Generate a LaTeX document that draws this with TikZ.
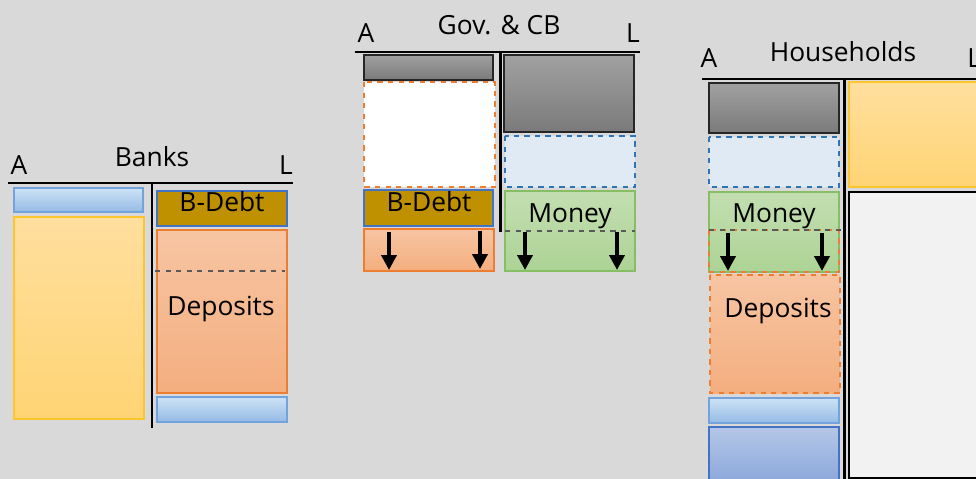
\documentclass[tikz,border=0pt]{standalone}
\usepackage{fontspec}
\setmainfont{Open Sans}
\usetikzlibrary{arrows.meta}

\definecolor{panel}{HTML}{D9D9D9}
\definecolor{blueedge}{HTML}{72A3DD}
\definecolor{debtfill}{HTML}{BF9000}
\definecolor{orangeedge}{HTML}{ED7D31}
\definecolor{darkblue}{HTML}{2E75B6}
\definecolor{greenedge}{HTML}{86BE63}
\definecolor{navyedge}{HTML}{4472C4}
\definecolor{goldedge}{HTML}{FFC52E}
\definecolor{goldtop}{HTML}{FFDF9E}
\definecolor{goldbot}{HTML}{FFD474}

\tikzset{
  lbl/.style={inner sep=0pt, anchor=base, font=\fontsize{15}{18}\selectfont},
  sheet/.style={line width=1.7pt},
  bluebar/.style={draw=blueedge, line width=0.6pt, top color=blue!8!cyan!5!white!70!blueedge, bottom color=blueedge!75!white},
  goldbox/.style={draw=goldedge, line width=0.6pt, top color=goldtop, bottom color=goldbot},
  debtbox/.style={draw=navyedge, line width=0.6pt, fill=debtfill},
  depbox/.style={draw=orangeedge, line width=0.6pt, top color=orangeedge!45!white, bottom color=orangeedge!62!white},
  greybox/.style={draw=black!85, line width=0.6pt, top color=black!37, bottom color=black!52},
  voidbox/.style={draw=orangeedge, dashed, line width=0.8pt, fill=white},
  cloudbox/.style={draw=darkblue, dashed, line width=0.8pt, fill=darkblue!15!white},
  moneybox/.style={draw=greenedge, line width=0.6pt, top color=greenedge!50!white, bottom color=greenedge!68!white},
  navybox/.style={draw=navyedge, line width=0.6pt, top color=navyedge!40!white, bottom color=navyedge!62!white},
  restbox/.style={draw=black, line width=0.6pt, fill=black!5},
  split/.style={draw=black!65, dashed, line width=0.8pt},
  flow/.style={-{Triangle[width=8.5pt,length=8.5pt]}, line width=2.3pt},
}

\begin{document}
\begin{tikzpicture}[x=0.02cm, y=-0.02cm]
  \clip (0,0) rectangle (976,479);
  \fill[panel] (0,0) rectangle (976,479);

  % Banks
  \draw[sheet] (8,183) -- (293,183);
  \draw[sheet] (152,183) -- (152,428);
  \node[lbl] (banksA) at (19,175) {A};
  \node[lbl] (banks) at (152,167) {Banks};
  \node[lbl] (banksL) at (286,175) {L};
  \path[bluebar] (14,188) rectangle (143,212);
  \path[goldbox] (14,217) rectangle (144,419);
  \path[debtbox] (157,191) rectangle (287,226);
  \path[depbox] (157,230) rectangle (287,393);
  \draw[split] (155,271) -- (285,271);
  \path[bluebar] (157,397) rectangle (287,422);
  \node[lbl] (bdebt) at (222,212) {B-Debt};
  \node[lbl] (bdep) at (221,316) {Deposits};

  % Gov. & CB
  \draw[sheet] (355,52) -- (640,52);
  \draw[sheet] (500,52) -- (500,232);
  \node[lbl] (govA) at (366,43) {A};
  \node[lbl] (gov) at (499,35) {Gov. \& CB};
  \node[lbl] (govL) at (633,43) {L};
  \path[greybox] (364,55) rectangle (493,80);
  \path[voidbox] (364,82) rectangle (495,187);
  \path[debtbox] (364,190) rectangle (493,226);
  \path[depbox] (364,229) rectangle (494,271);
  \path[greybox] (504,55) rectangle (634,132);
  \path[cloudbox] (505,136) rectangle (635,187);
  \path[moneybox] (505,191) rectangle (635,271);
  \draw[split] (505,231) -- (635,231);
  \node[lbl] (gdebt) at (429,212) {B-Debt};
  \node[lbl] (gmoney) at (570,223) {Money};
  \coordinate (ga1) at (389,232); \coordinate (ga2) at (389,270);
  \coordinate (gb1) at (480,231); \coordinate (gb2) at (480,269);
  \coordinate (gc1) at (525,232); \coordinate (gc2) at (525,270);
  \coordinate (gd1) at (617,232); \coordinate (gd2) at (617,270);
  \draw[flow] (ga1) -- (ga2);
  \draw[flow] (gb1) -- (gb2);
  \draw[flow] (gc1) -- (gc2);
  \draw[flow] (gd1) -- (gd2);

  % Households
  \draw[sheet] (702,79) -- (976,79);
  \draw[sheet] (844,79) -- (844,479);
  \node[lbl] (hhA) at (709,68) {A};
  \node[lbl] (hh) at (843,62) {Households};
  \node[lbl, anchor=base west] (hhL) at (967,68) {L};
  \path[greybox] (709,83) rectangle (839,133);
  \path[cloudbox] (709,137) rectangle (839,187);
  \path[moneybox] (709,192) rectangle (839,272);
  \draw[orangeedge, dashed, line width=0.6pt] (709,230) rectangle (839,272);
  \draw[split] (709,230) -- (841,230);
  \path[depbox, dashed] (710,275) rectangle (840,393);
  \path[bluebar] (709,398) rectangle (839,423);
  \path[navybox] (709,427) rectangle (839,482);
  \path[goldbox] (849,82) rectangle (980,187);
  \path[restbox] (849,192) rectangle (980,478);
  \node[lbl] (hmoney) at (774,223) {Money};
  \node[lbl] (hdep) at (778,317) {Deposits};
  \coordinate (ha1) at (728,233); \coordinate (ha2) at (728,271);
  \coordinate (hb1) at (822,233); \coordinate (hb2) at (822,271);
  \draw[flow] (ha1) -- (ha2);
  \draw[flow] (hb1) -- (hb2);
\end{tikzpicture}
\end{document}
